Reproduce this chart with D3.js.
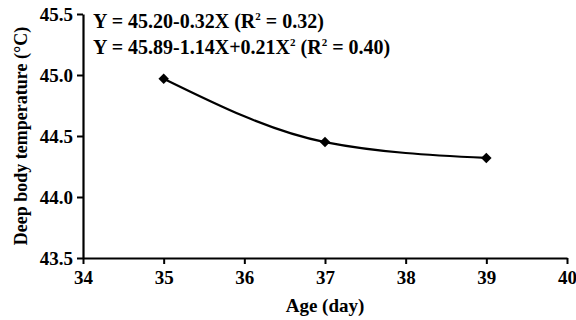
<!DOCTYPE html>
<meta charset="utf-8">
<style>
  body { margin: 0; background: #fff; }
  text { font-family: "Liberation Serif", "Times New Roman", serif; fill: #000; }
</style>
<script src="https://d3js.org/d3.v7.min.js"></script>
<div id="chart"></div>
<script>
// data
const ages = [35, 37, 39];
const temps = [44.97, 44.45, 44.32];
const xTicks = [34, 35, 36, 37, 38, 39, 40];
const yTicks = [43.5, 44.0, 44.5, 45.0, 45.5];

const W = 576, H = 320;
const margin = {top: 14, right: 9, bottom: 62, left: 83};

const svg = d3.select("#chart").append("svg")
    .attr("width", W).attr("height", H);

const x = d3.scaleLinear().domain([34, 40]).range([margin.left, W - margin.right]);
const y = d3.scaleLinear().domain([43.5, 45.5]).range([H - margin.bottom, margin.top]);

// x axis
const gx = svg.append("g")
    .attr("transform", "translate(0," + y(43.5) + ")")
    .call(d3.axisBottom(x).tickValues(xTicks).tickFormat(d3.format("d")).tickSize(6).tickSizeOuter(0));
gx.select(".domain").attr("stroke-width", 2.2);
gx.selectAll(".tick line").attr("stroke-width", 2);
gx.selectAll(".tick text").attr("font-size", 19).attr("font-weight", "bold")
    .attr("y", 26).attr("dy", null);

// y axis
const gy = svg.append("g")
    .attr("transform", "translate(" + x(34) + ",0)")
    .call(d3.axisLeft(y).tickValues(yTicks).tickFormat(d3.format(".1f")).tickSize(6).tickSizeOuter(0));
gy.select(".domain").attr("stroke-width", 2.2);
gy.selectAll(".tick line").attr("stroke-width", 2);
gy.selectAll(".tick text").attr("font-size", 19).attr("font-weight", "bold").attr("x", -10);

// axis titles
svg.append("text")
    .attr("x", x(37)).attr("y", 312)
    .attr("text-anchor", "middle")
    .attr("font-size", 19)
    .attr("font-weight", "bold")
    .text("Age (day)");

svg.append("text")
    .attr("transform", "translate(27," + ((margin.top + H - margin.bottom) / 2) + ") rotate(-90)")
    .attr("text-anchor", "middle")
    .attr("font-size", 18)
    .attr("font-weight", "bold")
    .text("Deep body temperature (°C)");

// fitted curve through the means
const pts = ages.map((a, i) => [a, temps[i]]);
const line = d3.line()
    .x(d => x(d[0]))
    .y(d => y(d[1]))
    .curve(d3.curveMonotoneX);

svg.append("path")
    .datum(pts)
    .attr("fill", "none")
    .attr("stroke", "#000")
    .attr("stroke-width", 2.2)
    .attr("d", line);

svg.selectAll(".pt")
    .data(pts)
    .enter().append("path")
    .attr("class", "pt")
    .attr("transform", d => "translate(" + x(d[0]) + "," + y(d[1]) + ")")
    .attr("d", d3.symbol().type(d3.symbolDiamond2).size(70))
    .attr("fill", "#000");

// equations
const eq = svg.append("g").attr("font-size", 20).attr("font-weight", "bold");
const t1 = eq.append("text").attr("x", 93).attr("y", 28);
t1.append("tspan").text("Y = 45.20-0.32X (R");
t1.append("tspan").attr("font-size", 11).attr("dy", -8).text("2");
t1.append("tspan").attr("dy", 8).text(" = 0.32)");

const t2 = eq.append("text").attr("x", 93).attr("y", 54);
t2.append("tspan").text("Y = 45.89-1.14X+0.21X");
t2.append("tspan").attr("font-size", 11).attr("dy", -8).text("2");
t2.append("tspan").attr("dy", 8).text(" (R");
t2.append("tspan").attr("font-size", 11).attr("dy", -8).text("2");
t2.append("tspan").attr("dy", 8).text(" = 0.40)");
</script>
